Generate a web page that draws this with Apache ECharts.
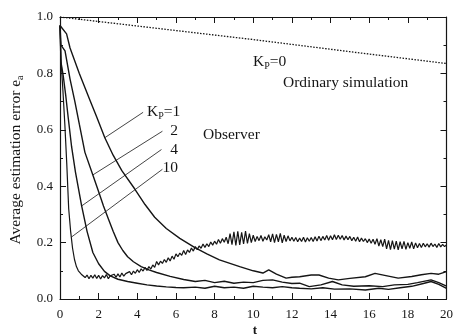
<!DOCTYPE html>
<html><head><meta charset="utf-8">
<script src="https://cdn.jsdelivr.net/npm/echarts@6/dist/echarts.min.js"></script>
<style>html,body{margin:0;padding:0;background:#fff}#c{width:456px;height:336px}</style>
</head><body><div id="c"></div>
<script>
// ---- data ----
const xTicks = [0, 2, 4, 6, 8, 10, 12, 14, 16, 18, 20];
const yTicks = [0.0, 0.2, 0.4, 0.6, 0.8, 1.0];

// K_P = 0, ordinary simulation (dotted)
const kp0T = [0, 5, 10, 15, 20];
const kp0V = [1.0, 0.96, 0.92, 0.877, 0.835];

// K_P = 1
const kp1T = [0, 0.34, 0.52, 1.0, 1.55, 1.9, 2.32, 2.75, 3.2, 3.87, 4.4, 4.9, 5.5, 6.2, 6.96, 7.6, 8.25, 9.3, 10.0,
  10.5, 10.8, 11.2, 11.7, 12.0, 12.4, 13.0, 13.4, 13.9, 14.4, 15.0, 15.8, 16.3, 16.8, 17.5, 18.2, 18.7, 19.2, 19.6, 20];
const kp1V = [0.97, 0.94, 0.89, 0.80, 0.705, 0.645, 0.572, 0.51, 0.455, 0.39, 0.335, 0.29, 0.25, 0.215, 0.183, 0.16, 0.139, 0.115, 0.10,
  0.092, 0.103, 0.088, 0.074, 0.077, 0.079, 0.085, 0.085, 0.074, 0.068, 0.073, 0.079, 0.091, 0.084, 0.074, 0.08, 0.086, 0.091, 0.088, 0.097];

// K_P = 2
const kp2T = [0, 0.05, 0.26, 0.52, 0.77, 1.0, 1.29, 1.7, 2.0, 2.25, 2.5, 2.75, 3.0, 3.25, 3.5, 3.8, 4.2, 4.6, 5.0, 5.7, 6.4, 7.0, 7.5, 8.0, 8.5, 9.0, 9.5, 10.0,
  10.5, 11.0, 11.5, 12.0, 12.4, 12.9, 13.5, 14.1, 14.6, 15.2, 16.0, 16.7, 17.3, 18.0, 18.5, 19.2, 19.6, 20];
const kp2V = [0.97, 0.90, 0.88, 0.78, 0.70, 0.62, 0.52, 0.44, 0.38, 0.33, 0.285, 0.24, 0.20, 0.172, 0.15, 0.132, 0.115, 0.103, 0.094, 0.08, 0.069, 0.062, 0.066, 0.058, 0.063, 0.056, 0.06, 0.058,
  0.066, 0.068, 0.06, 0.055, 0.056, 0.044, 0.05, 0.062, 0.05, 0.045, 0.047, 0.044, 0.05, 0.052, 0.058, 0.068, 0.058, 0.046];

// K_P = 4
const kp4T = [0, 0.05, 0.17, 0.3, 0.43, 0.6, 0.8, 1.12, 1.4, 1.7, 2.0, 2.3, 2.6, 3.0, 3.5, 4.0, 4.5, 5.0, 5.5, 6.0, 6.4, 7.0, 7.5, 8.0, 8.5, 9.0, 9.5, 10.0,
  10.5, 11.0, 11.5, 12.0, 12.4, 13.0, 13.6, 14.2, 15.0, 15.8, 16.5, 17.0, 17.6, 18.2, 18.8, 19.2, 19.6, 20];
const kp4V = [0.97, 0.84, 0.79, 0.72, 0.64, 0.54, 0.45, 0.33, 0.24, 0.165, 0.125, 0.098, 0.082, 0.07, 0.062, 0.056, 0.05, 0.046, 0.043, 0.041, 0.04, 0.042, 0.038, 0.045, 0.04, 0.042, 0.038, 0.045,
  0.042, 0.04, 0.044, 0.04, 0.038, 0.036, 0.04, 0.035, 0.036, 0.032, 0.038, 0.034, 0.04, 0.045, 0.055, 0.062, 0.052, 0.038];

// K_P = 10 (fast drop, then noisy)
const kp10T = [0, 0.05, 0.15, 0.25, 0.35, 0.45, 0.55, 0.65, 0.75, 0.85, 0.95, 1.1];
const kp10V = [0.97, 0.85, 0.74, 0.62, 0.48, 0.32, 0.24, 0.18, 0.14, 0.115, 0.10, 0.088];
const kp10NoiseStart = 1.2, kp10NoiseStep = 0.1;
const kp10Noise = [
  0.088, 0.076, 0.085, 0.072, 0.084, 0.074, 0.086, 0.073,
  0.084, 0.071, 0.083, 0.075, 0.087, 0.072, 0.082, 0.076, 0.088, 0.077,
  0.089, 0.078, 0.092, 0.081, 0.090, 0.084, 0.097, 0.086, 0.099, 0.091,
  0.104, 0.094, 0.107, 0.099, 0.112, 0.101, 0.115, 0.106, 0.121, 0.112,
  0.133, 0.121, 0.134, 0.126, 0.140, 0.130, 0.146, 0.135, 0.152, 0.141,
  0.160, 0.150, 0.163, 0.155, 0.172, 0.158, 0.174, 0.165, 0.181, 0.170,
  0.186, 0.175, 0.188, 0.180, 0.195, 0.183, 0.196, 0.186, 0.202, 0.191,
  0.205, 0.194, 0.211, 0.198, 0.214, 0.201, 0.219, 0.196, 0.232, 0.193,
  0.238, 0.190, 0.240, 0.192, 0.236, 0.195, 0.241, 0.197, 0.232, 0.200,
  0.226, 0.204, 0.222, 0.207, 0.225, 0.205, 0.221, 0.209, 0.228, 0.203,
  0.231, 0.200, 0.229, 0.203, 0.233, 0.199, 0.226, 0.204, 0.224, 0.206,
  0.219, 0.205, 0.218, 0.203, 0.216, 0.204, 0.219, 0.202, 0.217, 0.205,
  0.218, 0.204, 0.221, 0.206, 0.223, 0.207, 0.222, 0.209, 0.225, 0.208,
  0.224, 0.210, 0.228, 0.211, 0.226, 0.212, 0.225, 0.209, 0.223, 0.210,
  0.222, 0.207, 0.219, 0.205, 0.220, 0.203, 0.216, 0.204, 0.214, 0.200,
  0.213, 0.198, 0.212, 0.194, 0.214, 0.188, 0.210, 0.186, 0.212, 0.178,
  0.208, 0.175, 0.207, 0.177, 0.205, 0.174, 0.203, 0.178, 0.204, 0.176,
  0.200, 0.180, 0.202, 0.178, 0.199, 0.182, 0.197, 0.183, 0.198, 0.185,
  0.196, 0.184, 0.198, 0.186, 0.195, 0.183, 0.197, 0.185, 0.194, 0.186,
  0.192
];

// leader lines for the K_P labels: [t_from, v_from, t_to, v_to]
const leaderKp1 = [4.3, 0.662, 2.32, 0.572];
const leaderKp2 = [5.3, 0.595, 1.7, 0.44];
const leaderKp4 = [5.25, 0.53, 1.12, 0.33];
const leaderKp10 = [5.3, 0.46, 0.6, 0.22];

// ---- chart ----
const FF = "'Liberation Serif','Times New Roman',serif";
const INK = '#151515';
function zip(t, v) { return t.map((x, i) => [x, v[i]]); }
const kp10Data = zip(kp10T, kp10V).concat(
  kp10Noise.map((v, i) => [+(kp10NoiseStart + i * kp10NoiseStep).toFixed(2), v]));

function curve(name, data, extra) {
  return Object.assign({
    name, type: 'line', data, showSymbol: false, symbol: 'none', silent: true,
    lineStyle: { color: INK, width: 1.4 }, animation: false, z: 3
  }, extra || {});
}
function leader(a) {
  return {
    type: 'line', data: [[a[0], a[1]], [a[2], a[3]]], showSymbol: false, symbol: 'none',
    silent: true, animation: false, lineStyle: { color: INK, width: 0.8 }, z: 2
  };
}

const axisCommonX = {
  type: 'value', min: 0, max: 20, interval: 2,
  axisLine: { show: true, onZero: false, lineStyle: { color: INK, width: 1.2 } },
  axisTick: { show: true, inside: true, length: 6, lineStyle: { color: INK, width: 1 } },
  minorTick: { show: true, splitNumber: 2, length: 3, lineStyle: { color: INK, width: 1 } },
  splitLine: { show: false }
};
const axisCommonY = {
  type: 'value', min: 0, max: 1, interval: 0.2,
  axisLine: { show: true, onZero: false, lineStyle: { color: INK, width: 1.2 } },
  axisTick: { show: true, inside: true, length: 6, lineStyle: { color: INK, width: 1 } },
  minorTick: { show: true, splitNumber: 2, length: 3, lineStyle: { color: INK, width: 1 } },
  splitLine: { show: false }
};

const chart = echarts.init(document.getElementById('c'), null, { renderer: 'canvas' });
chart.setOption({
  backgroundColor: '#fff',
  animation: false,
  grid: { left: 60, right: 8, top: 17, bottom: 37, containLabel: false },
  xAxis: [
    Object.assign({}, axisCommonX, { position: 'bottom',
      axisLabel: { color: INK, fontSize: 13, fontFamily: FF, margin: 9,
        formatter: v => xTicks.includes(v) ? String(v) : '' } }),
    Object.assign({}, axisCommonX, { position: 'top', axisLabel: { show: false } })
  ],
  yAxis: [
    Object.assign({}, axisCommonY, { position: 'left',
      axisLabel: { color: INK, fontSize: 13, fontFamily: FF, margin: 7,
        formatter: v => yTicks.some(t => Math.abs(t - v) < 1e-9) ? v.toFixed(1) : '' } }),
    Object.assign({}, axisCommonY, { position: 'right', axisLabel: { show: false } })
  ],
  series: [
    curve('K_P=0', zip(kp0T, kp0V), { lineStyle: { color: INK, width: 1.3, type: [1.5, 1.5] } }),
    curve('K_P=1', zip(kp1T, kp1V)),
    curve('K_P=2', zip(kp2T, kp2V)),
    curve('K_P=4', zip(kp4T, kp4V)),
    curve('K_P=10', kp10Data, { lineStyle: { color: INK, width: 1.2 } }),
    leader(leaderKp1), leader(leaderKp2), leader(leaderKp4), leader(leaderKp10)
  ]
});

const big = { fontSize: 15.5, fontFamily: FF, fill: INK };
const sub = { fontSize: 10, fontFamily: FF, fill: INK, padding: [9, 0, 0, 0] };
function txt(x, y, text, align, extra) {
  return Object.assign({
    type: 'text', x, y, silent: true,
    style: Object.assign({ text, align: align || 'left', verticalAlign: 'middle',
      fontSize: 15.5, fontFamily: FF, fill: INK, rich: { k: big, p: sub } })
  }, extra || {});
}
chart.setOption({
  graphic: [
    txt(147, 112, '{k|K}{p|P}{k|=1}'),
    txt(178, 131, '2', 'right'),
    txt(178, 150, '4', 'right'),
    txt(178, 168, '10', 'right'),
    txt(203, 135, 'Observer'),
    txt(253, 62, '{k|K}{p|P}{k|=0}'),
    txt(283, 83, 'Ordinary simulation'),
    txt(16, 160, '{k|Average estimation error e}{p|a}', 'center', { rotation: Math.PI / 2 }),
    { type: 'text', x: 255, y: 331, silent: true,
      style: { text: 't', align: 'center', verticalAlign: 'middle', fontSize: 13, fontWeight: 'bold', fontFamily: FF, fill: INK } }
  ]
});
</script></body></html>
